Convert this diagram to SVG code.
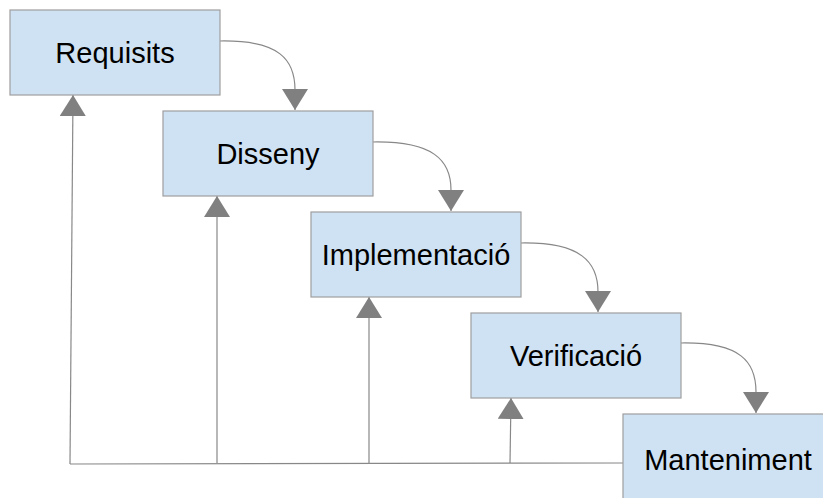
<svg xmlns="http://www.w3.org/2000/svg" width="823" height="498" viewBox="0 0 823 498">
  <style>
    .box { fill: #cfe2f3; stroke: #9e9e9e; stroke-width: 1.2; }
    .label { font-family: "Liberation Sans", Arial, sans-serif; font-size: 29px; fill: #000; text-anchor: middle; }
    .flow { fill: none; stroke: #888; stroke-width: 1.2; marker-end: url(#head); }
  </style>
  <defs>
    <marker id="head" viewBox="0 0 21 26" refX="21" refY="13" markerWidth="21" markerHeight="26" markerUnits="userSpaceOnUse" orient="auto">
      <path d="M0,0 L21,13 L0,26 Z" fill="#808080"/>
    </marker>
  </defs>
  <rect width="823" height="498" fill="#fff"/>

  <g id="connectors">
    <!-- forward steps -->
    <path class="flow" d="M220,41 C280,40 295,60 295,90 L295,110"/>
    <path class="flow" d="M373,142 C433,141 451,160 451,190 L451,211"/>
    <path class="flow" d="M521,243 C581,242 598,262 598,292 L598,312"/>
    <path class="flow" d="M681,343 C741,342 756,362 756,392 L756,413"/>
    <!-- feedback lines -->
    <path fill="none" stroke="#888" stroke-width="1.2" d="M623,463 L70,464"/>
    <path class="flow" d="M70,464 L73,95"/>
    <path class="flow" d="M217,463 L217,196"/>
    <path class="flow" d="M369,463 L369,297"/>
    <path class="flow" d="M510,463 L511,398"/>
  </g>

  <g id="requisits">
    <rect class="box" x="10" y="10" width="210" height="85"/>
    <text class="label" x="115" y="63">Requisits</text>
  </g>
  <g id="disseny">
    <rect class="box" x="163" y="111" width="210" height="85"/>
    <text class="label" x="268" y="164">Disseny</text>
  </g>
  <g id="implementacio">
    <rect class="box" x="311" y="212" width="210" height="85"/>
    <text class="label" x="416" y="265">Implementació</text>
  </g>
  <g id="verificacio">
    <rect class="box" x="471" y="313" width="210" height="85"/>
    <text class="label" x="576" y="366">Verificació</text>
  </g>
  <g id="manteniment">
    <rect class="box" x="623" y="414" width="210" height="85"/>
    <text class="label" x="728" y="470">Manteniment</text>
  </g>
</svg>
